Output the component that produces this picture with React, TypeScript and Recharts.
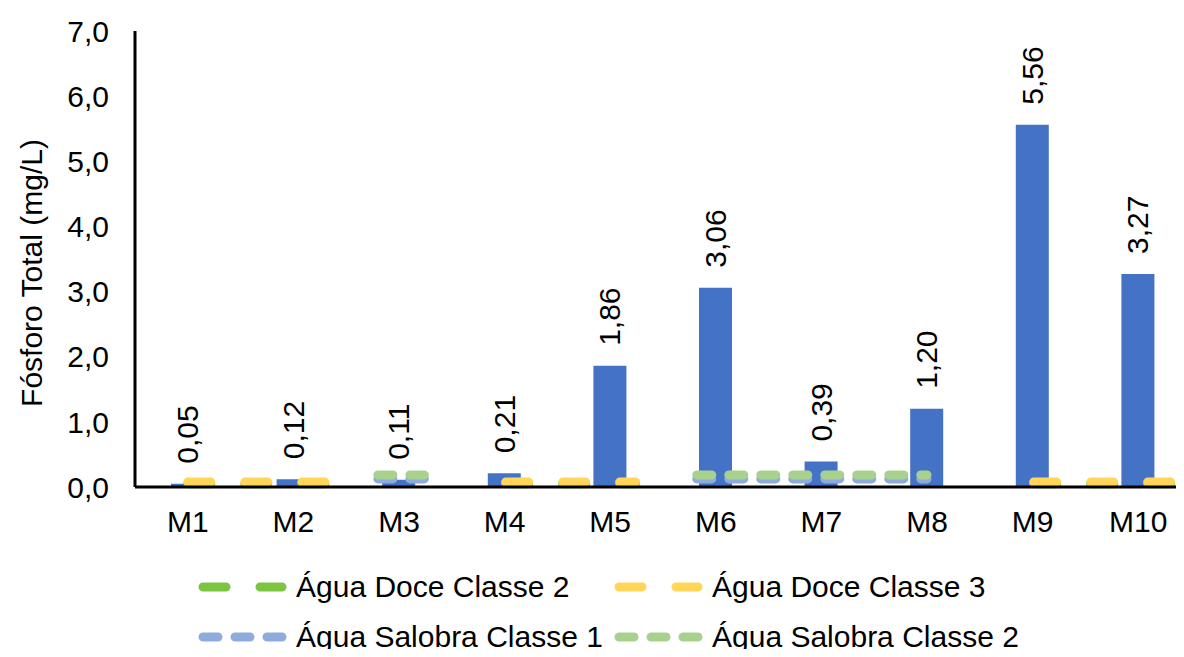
import React from 'react';
import { ComposedChart, Bar, Line, XAxis, YAxis, LabelList, Label } from 'recharts';

const categories = ['M1', 'M2', 'M3', 'M4', 'M5', 'M6', 'M7', 'M8', 'M9', 'M10'];
const phosphorus = [0.05, 0.12, 0.11, 0.21, 1.86, 3.06, 0.39, 1.2, 5.56, 3.27];
const yTicks = [0, 1, 2, 3, 4, 5, 6, 7];

// Limits (mg/L)
const doceClasse2 = 0.05;
const doceClasse3 = 0.075;
const salobraClasse1 = 0.124;
const salobraClasse2 = 0.186;

// Stretches of the sample axis (in sample units, 0..10) where each limit applies
const doceRanges: [number, number][] = [[0.5, 1.87], [3.51, 4.74], [8.51, 9.83]];
const salobraRanges: [number, number][] = [[2.3, 2.74], [5.32, 7.5]];

const legendNames = ['Água Doce Classe 2', 'Água Doce Classe 3', 'Água Salobra Classe 1', 'Água Salobra Classe 2'];
const colors = ['#7CC540', '#FFD659', '#8FAADC', '#A9D18E'];
const dashes = ['23 34', '23 34', '15 17', '15 17'];

const barData = categories.map((name, i) => ({ name, value: phosphorus[i] }));

function buildSegments(ranges: [number, number][], level: number) {
  const pts: { x: number; y: number | null }[] = [];
  ranges.forEach(([a, b], i) => {
    if (i > 0) pts.push({ x: (ranges[i - 1][1] + a) / 2, y: null });
    pts.push({ x: a, y: level });
    pts.push({ x: b, y: level });
  });
  return pts;
}

const seriesData = [
  buildSegments(doceRanges, doceClasse2),
  buildSegments(doceRanges, doceClasse3),
  buildSegments(salobraRanges, salobraClasse1),
  buildSegments(salobraRanges, salobraClasse2),
];

const FONT = '"Liberation Sans", Arial, sans-serif';
const FS = 30;

const fmt1 = (v: number) => v.toFixed(1).replace('.', ',');
const fmt2 = (v: number) => v.toFixed(2).replace('.', ',');

const BarLabel = (props: any) => {
  const { x, y, width, value } = props;
  const cx = x + width / 2;
  const cy = y - 20;
  return (
    <text
      x={cx}
      y={cy}
      transform={`rotate(-90 ${cx} ${cy})`}
      textAnchor="start"
      dominantBaseline="central"
      fontFamily={FONT}
      fontSize={FS}
      fill="#000"
    >
      {fmt2(value)}
    </text>
  );
};

const YTitle = () => (
  <text
    x={31}
    y={273}
    transform="rotate(-90 31 273)"
    textAnchor="middle"
    dominantBaseline="central"
    fontFamily={FONT}
    fontSize={FS}
    fill="#000"
  >
    Fósforo Total (mg/L)
  </text>
);

const LegendIcon = ({ color, dash }: { color: string; dash: string }) => (
  <svg width={89} height={14} style={{ display: 'block' }}>
    <line x1={5} y1={7} x2={84} y2={7} stroke={color} strokeWidth={9} strokeLinecap="round" strokeDasharray={dash} />
  </svg>
);

const legendPos = [
  { left: 198, top: 587 },
  { left: 614, top: 587 },
  { left: 198, top: 637 },
  { left: 614, top: 637 },
];

export default function App() {
  return (
    <div style={{ margin: -8, width: 1184, height: 657, overflow: 'hidden', position: 'relative', background: '#fff' }}>
      <ComposedChart
        width={1200}
        height={657}
        data={barData}
        margin={{ top: 31, right: 9, bottom: 110, left: 0 }}
      >
        <XAxis
          xAxisId="cat"
          dataKey="name"
          type="category"
          axisLine={{ stroke: '#000', strokeWidth: 3 }}
          tickLine={false}
          tickMargin={18}
          height={60}
          tick={{ fontFamily: FONT, fontSize: FS, fill: '#000' }}
          interval={0}
        />
        <XAxis xAxisId="pos" dataKey="x" type="number" domain={[0, 10]} hide allowDataOverflow />
        <YAxis
          yAxisId="y"
          domain={[0, 7]}
          ticks={yTicks}
          width={135}
          axisLine={{ stroke: '#000', strokeWidth: 3 }}
          tickLine={false}
          tickMargin={20}
          tickFormatter={fmt1}
          tick={{ fontFamily: FONT, fontSize: FS, fill: '#000' }}
        >
          <Label content={<YTitle />} />
        </YAxis>
        <Bar xAxisId="cat" yAxisId="y" dataKey="value" fill="#4472C4" barSize={33} isAnimationActive={false}>
          <LabelList dataKey="value" content={<BarLabel />} />
        </Bar>
        {seriesData.map((d, i) => (
          <Line
            key={legendNames[i]}
            xAxisId="pos"
            yAxisId="y"
            data={d}
            dataKey="y"
            type="linear"
            stroke={colors[i]}
            strokeWidth={9}
            strokeLinecap="round"
            strokeDasharray={dashes[i]}
            dot={false}
            activeDot={false}
            connectNulls={false}
            isAnimationActive={false}
            name={legendNames[i]}
          />
        ))}
      </ComposedChart>
      {legendNames.map((name, i) => (
        <div
          key={name}
          style={{
            position: 'absolute',
            left: legendPos[i].left,
            top: legendPos[i].top,
            transform: 'translateY(-50%)',
            display: 'flex',
            alignItems: 'center',
            fontFamily: FONT,
            fontSize: FS,
            color: '#000',
            whiteSpace: 'nowrap',
            lineHeight: 1,
          }}
        >
          <LegendIcon color={colors[i]} dash={dashes[i]} />
          <span style={{ marginLeft: 9 }}>{name}</span>
        </div>
      ))}
    </div>
  );
}
